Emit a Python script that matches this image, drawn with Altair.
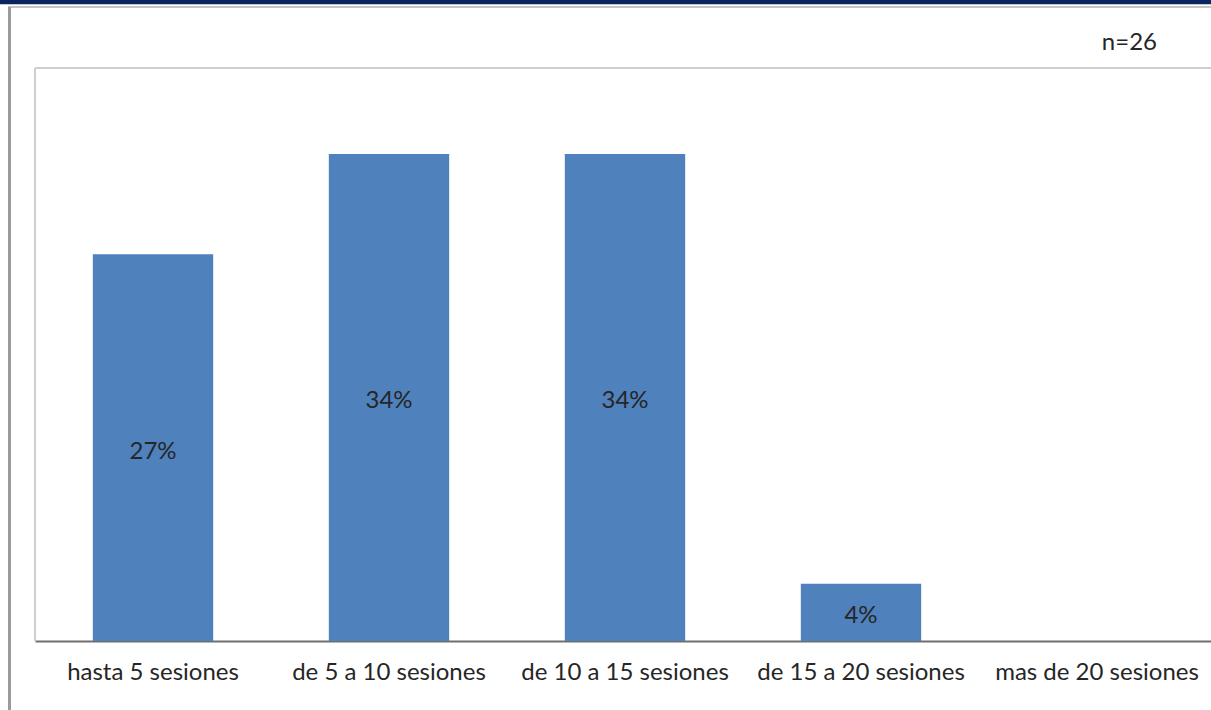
import altair as alt
import pandas as pd

# Sessions attended, share of respondents (n=26)
categories = [
    "hasta 5 sesiones",
    "de 5 a 10 sesiones",
    "de 10 a 15 sesiones",
    "de 15 a 20 sesiones",
    "mas de 20 sesiones",
]
percentages = [27, 34, 34, 4, 0]
sample_note = "n=26"

FONT = "Lato"
FONT_SIZE = 24
TEXT_COLOR = "#262626"
BAR_COLOR = "#4f81bd"

W, H = 1176, 573

df = pd.DataFrame({"cat": categories, "pct": percentages})
df["label"] = df["pct"].astype(str) + "%"

x_enc = alt.X(
    "cat:N",
    sort=categories,
    scale=alt.Scale(range=[0, 1180], paddingInner=0.49, paddingOuter=0.245),
    axis=alt.Axis(
        title=None,
        ticks=False,
        labelAngle=0,
        labelFont=FONT,
        labelFontSize=FONT_SIZE,
        labelColor=TEXT_COLOR,
        labelPadding=19,
        labelLimit=0,
        domainColor="#6f6f6f",
        domainWidth=2,
        grid=False,
    ),
)
y_scale = alt.Scale(domain=[0, 40], nice=False)

bars = (
    alt.Chart(df)
    .mark_bar(color=BAR_COLOR)
    .encode(
        x=x_enc,
        y=alt.Y("pct:Q", scale=y_scale, axis=None),
    )
)

labels = (
    alt.Chart(df)
    .transform_filter("datum.pct > 0")
    .transform_calculate(mid="datum.pct / 2")
    .mark_text(font=FONT, fontSize=FONT_SIZE, color=TEXT_COLOR, baseline="middle", dy=4)
    .encode(
        x=alt.X("cat:N", sort=categories),
        y=alt.Y("mid:Q", scale=y_scale),
        text="label:N",
    )
)

one = pd.DataFrame({"k": [0]})

# frame decorations around the plot
top_band = alt.Chart(one).mark_rule(color="#0b2461", strokeWidth=4.5).encode(
    x=alt.value(-35), x2=alt.value(W), y=alt.value(-66)
)
top_frame = alt.Chart(one).mark_rule(color="#c4c4c4", strokeWidth=2).encode(
    x=alt.value(-27), x2=alt.value(W), y=alt.value(-61)
)
left_frame = alt.Chart(one).mark_rule(color="#9a9a9a", strokeWidth=3).encode(
    x=alt.value(-25.5), y=alt.value(-61), y2=alt.value(H + 80)
)
box_top = alt.Chart(one).mark_rule(color="#cfcfcf", strokeWidth=2).encode(
    x=alt.value(0), x2=alt.value(W), y=alt.value(0)
)
box_left = alt.Chart(one).mark_rule(color="#cfcfcf", strokeWidth=2).encode(
    x=alt.value(0), y=alt.value(0), y2=alt.value(H)
)

note = (
    alt.Chart(pd.DataFrame({"t": [sample_note]}))
    .mark_text(font=FONT, fontSize=FONT_SIZE, color=TEXT_COLOR, align="right", baseline="middle")
    .encode(x=alt.value(1122), y=alt.value(-25), text="t:N")
)

chart = (
    alt.layer(top_band, top_frame, left_frame, box_top, box_left, bars, labels, note)
    .properties(
        width=W,
        height=H,
        padding={"left": 35, "top": 68, "right": 0, "bottom": 69},
        autosize=alt.AutoSizeParams(type="none"),
        background="white",
    )
    .configure_view(stroke=None)
)

chart.save("out.html", embed_options={"renderer": "svg", "actions": False})
